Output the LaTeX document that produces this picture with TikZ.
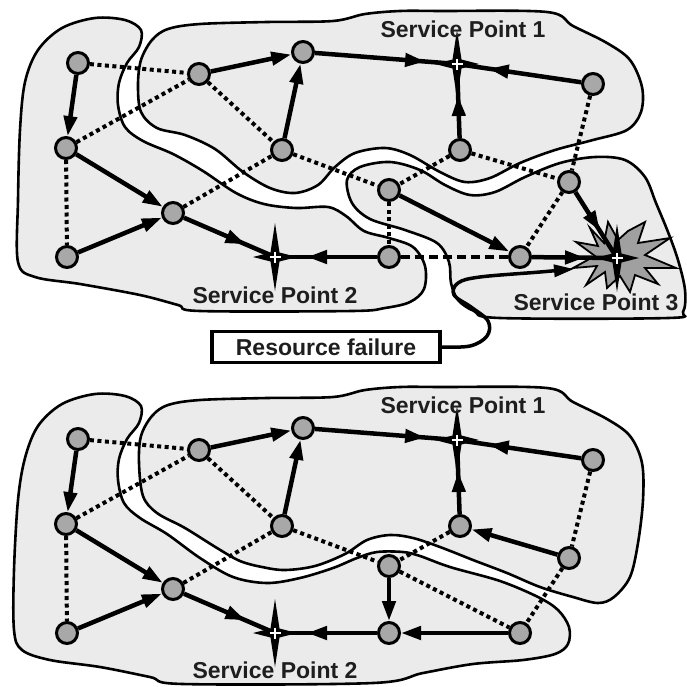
\documentclass[tikz,border=0pt]{standalone}
\usepackage{fontspec}
\setmainfont{Liberation Sans}
\usetikzlibrary{arrows.meta,decorations.markings,calc}
\definecolor{regfill}{HTML}{EBEBEB}
\definecolor{nodefill}{HTML}{A8A8A8}
\definecolor{txt}{HTML}{1E1E1E}
\definecolor{boomfill}{HTML}{A0A0A0}
\pgfdeclarelayer{bg}
\pgfdeclarelayer{edges}
\pgfsetlayers{bg,edges,main}
\newcommand\spmark[1]{%
  \begin{scope}[shift={(#1)}]
    \fill[black] (0,-34) -- (4.5,-4.5) -- (22,0) -- (4.5,4.5) -- (0,34) -- (-4.5,4.5) -- (-22,0) -- (-4.5,-4.5) -- cycle;
    \draw[white, line width=1.6pt] (-5.5,0) -- (5.5,0) (0,-5.5) -- (0,5.5);
  \end{scope}}
\begin{document}
\begin{tikzpicture}[x=1pt,y=-1pt,
  region/.style={fill=regfill, draw=black, line width=2.6pt},
  nd/.style={circle, fill=nodefill, draw=black, line width=3pt, minimum size=21pt, inner sep=0pt},
  arr/.style={draw=black, line width=4.5pt, -{Triangle[length=20pt,width=13pt]}},
  dotline/.style={draw=black, line width=4pt, dash pattern=on 4pt off 3.5pt},
  dashline/.style={draw=black, line width=4pt, dash pattern=on 9pt off 5pt},
  midarr/.style={draw=black, line width=4.5pt, postaction={decorate},
    decoration={markings, mark=at position -32pt with {\arrow{Triangle[length=20pt,width=13pt]}}}},
  failarr/.style={draw=black, line width=3.5pt, -{Triangle[length=20pt,width=12pt]}},
  splabel/.style={font=\bfseries\fontsize{23}{23}\selectfont, text=txt, inner sep=0pt},
  failbox/.style={draw=black, line width=3.5pt, fill=white, minimum width=228pt, minimum height=31pt, inner sep=0pt, font=\bfseries\fontsize{23}{23}\selectfont, text=txt}
]
\useasboundingbox (0,0) rectangle (687,686);

\begin{pgfonlayer}{bg}
\fill[white] (0,0) rectangle (687,686);
% ---- top diagram regions
\path[region] plot[smooth cycle, tension=0.55] coordinates {(18,200) (20,130) (25,82) (38,50) (62,28) (95,18) (125,20) (141,30) (139,47) (127,63) (119,83) (118,105) (125,127) (143,141) (173,154) (203,171) (236,193) (264,204) (296,208) (328,207) (346,216) (364,231) (389,238) (413,247) (425,266) (424,289) (410,302) (385,308) (352,311) (200,311) (178,305) (140,295) (80,284) (35,277) (18,262)};
\path[region] plot[smooth cycle, tension=0.55] coordinates {(152,40) (168,29) (200,24) (267,22) (333,21) (365,14) (400,11) (440,11) (547,12) (573,26) (607,43) (630,60) (642,87) (641,112) (627,130) (593,140) (555,150) (520,163) (490,178) (465,182) (440,172) (410,155) (385,148) (355,153) (335,167) (318,185) (295,193) (270,188) (243,172) (215,149) (185,135) (157,128) (141,112) (138,85) (141,60)};
\path[region] plot[smooth cycle, tension=0.55] coordinates {(347,180) (360,167) (390,162) (420,170) (445,185) (470,195) (495,192) (525,177) (560,163) (595,157) (625,160) (645,177) (656,203) (668,232) (678,260) (685,290) (683,312) (668,318) (500,318) (474,311) (458,300) (451,283) (449,262) (437,243) (405,230) (370,219) (352,203)};
% ---- bottom diagram regions
\path[region] plot[smooth cycle, tension=0.55] coordinates {(18,500) (25,458) (38,426) (62,404) (95,394) (125,396) (141,406) (139,423) (127,439) (119,459) (118,480) (124,503) (140,518) (167,534) (200,558) (233,577) (267,583) (300,578) (333,568) (357,558) (377,552) (403,552) (420,556) (450,567) (500,581) (538,597) (558,610) (569,627) (568,644) (555,654) (523,660) (473,664) (423,673) (373,683) (183,684) (150,677) (100,667) (50,660) (22,650) (14,630) (14,570)};
\path[region] plot[smooth cycle, tension=0.55] coordinates {(152,416) (168,405) (200,400) (267,398) (333,397) (365,390) (400,387) (440,387) (547,388) (573,402) (607,419) (630,436) (642,463) (643,500) (638,543) (630,577) (614,597) (598,603) (573,597) (540,587) (507,573) (473,560) (440,547) (413,538) (390,535) (367,540) (345,554) (315,566) (285,570) (262,567) (240,561) (217,548) (185,528) (157,513) (143,496) (139,463) (141,436)};
% ---- explosion at service point 3
\filldraw[fill=boomfill, draw=black, line width=1.8pt] (590,228) -- (604,243) -- (608,222) -- (618,240) -- (628,231) -- (645,222) -- (638,243) -- (670,238) -- (645,255) -- (676,268) -- (645,268) -- (658,284) -- (635,275) -- (630,292) -- (620,276) -- (607,288) -- (605,272) -- (586,285) -- (597,266) -- (573,268) -- (595,256) -- (576,242) -- (598,246) -- cycle;
\end{pgfonlayer}

% ---- nodes
\foreach \p/\dy in {t/0,b/376}{
  \foreach \n/\x/\y in {A/78/63, B/66/148, C/67/257, D/173/213, E/199/74, F/303/52, G/282/150, H/593/84, I/460/150, J/389/190, K/569/182, L/389/257, M/520/257}{
    \node[nd] (\p\n) at (\x,\y+\dy) {};
  }
  \coordinate (\p SP1) at (457,64+\dy);
  \coordinate (\p SP2) at (275,257+\dy);
}
\coordinate (tSP3) at (617,258);

% ---- connectors
\begin{pgfonlayer}{edges}
\foreach \p in {t,b}{
  \draw[dotline] (\p A) -- (\p E);
  \draw[dotline] (\p B) -- (\p E);
  \draw[dotline] (\p B) -- (\p C);
  \draw[dotline] (\p D) -- (\p G);
  \draw[dotline] (\p E) -- (\p G);
  \draw[dotline] (\p G) -- (\p J);
  \draw[dotline] (\p I) -- (\p J);
  \draw[dotline] (\p H) -- (\p K);
  \draw[dotline] (\p K) -- (\p M);
  \draw[arr] (\p A) -- (\p B);
  \draw[arr] (\p B) -- (\p D);
  \draw[arr] (\p C) -- (\p D);
  \draw[arr] (\p E) -- (\p F);
  \draw[arr] (\p G) -- (\p F);
  \draw[midarr] (\p D) -- (\p SP2);
  \draw[midarr] (\p L) -- (\p SP2);
  \draw[midarr] (\p F) -- (\p SP1);
  \draw[midarr] (\p H) -- (\p SP1);
  \draw[midarr] (\p I) -- (\p SP1);
}
\draw[dotline] (tI) -- (tK);
\draw[dotline] (tJ) -- (tL);
\draw[dashline] (tL) -- (tM);
\draw[arr] (tJ) -- (tM);
\draw[midarr] (tK) -- (tSP3);
\draw[midarr] (tM) -- (tSP3);
\draw[arr] (bJ) -- (bL);
\draw[arr] (bM) -- (bL);
\draw[arr] (bK) -- (bI);
\draw[dotline] (bJ) -- (bM);
\end{pgfonlayer}

% ---- service point markers
\spmark{tSP1}
\spmark{tSP2}
\spmark{tSP3}
\spmark{bSP1}
\spmark{bSP2}

% ---- labels
\node[splabel] (l1t) at (463,29) {Service Point 1};
\node[splabel] (l2t) at (275,295) {Service Point 2};
\node[splabel] (l3t) at (596,302) {Service Point 3};
\node[splabel] (l1b) at (463,405) {Service Point 1};
\node[splabel] (l2b) at (275,670) {Service Point 2};

% ---- resource failure
\node[failbox] (rf) at (326,347) {Resource failure};
\coordinate (failtip) at (574,269);
\draw[failarr] plot[smooth, tension=0.6] coordinates {(rf.east) (470,346) (487,336) (488,321) (471,307) (454,295) (458,283) (480,277) (540,272) (failtip)};
\end{tikzpicture}
\end{document}
